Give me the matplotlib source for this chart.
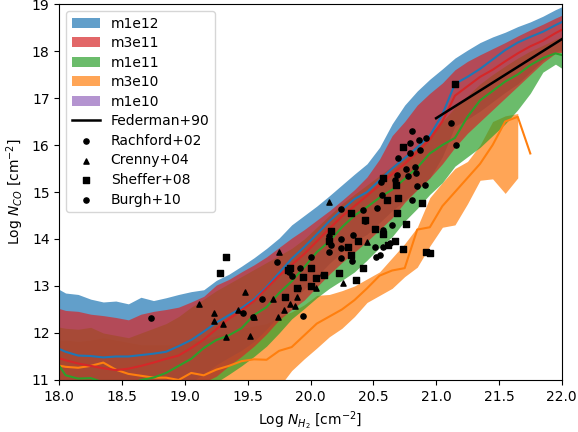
import numpy as np
import matplotlib
matplotlib.use('Agg')
import matplotlib.pyplot as plt

nan = np.nan

# bin centres in log N(H2)
xbins = [17.95, 18.05, 18.15, 18.25, 18.35, 18.45, 18.55, 18.65, 18.75, 18.85,
         18.95, 19.05, 19.15, 19.25, 19.35, 19.45, 19.55, 19.65, 19.75, 19.85,
         19.95, 20.05, 20.15, 20.25, 20.35, 20.45, 20.55, 20.65, 20.75, 20.85,
         20.95, 21.05, 21.15, 21.25, 21.35, 21.45, 21.55, 21.65, 21.75, 21.85,
         21.95, 22.05]

# m1e12
m1e12_hi = [13.0, 12.85, 12.82, 12.72, 12.66, 12.68, 12.62, 12.76, 12.69, 12.75,
            12.82, 12.88, 12.92, 13.12, 13.25, 13.42, 13.6, 13.8, 14.02, 14.3,
            14.5, 14.7, 14.92, 15.15, 15.38, 15.6, 15.95, 16.45, 16.85, 17.15,
            17.4, 17.62, 17.85, 18.02, 18.18, 18.3, 18.4, 18.52, 18.62, 18.74,
            18.88, 19.0]
m1e12_med = [11.72, 11.6, 11.52, 11.51, 11.48, 11.5, 11.5, 11.53, 11.56, 11.6,
             11.72, 11.85, 12.03, 12.22, 12.38, 12.53, 12.72, 12.98, 13.28, 13.58,
             13.83, 14.1, 14.38, 14.62, 14.85, 15.0, 15.25, 15.5, 15.72, 15.95,
             16.2, 16.65, 17.3, 17.45, 17.62, 17.82, 18.02, 18.18, 18.3, 18.41,
             18.55, 18.68]
m1e12_lo = [10.8, 10.7, 10.62, 10.6, 10.58, 10.6, 10.6, 10.63, 10.66, 10.7,
            10.82, 10.95, 11.13, 11.32, 11.48, 11.63, 11.82, 12.08, 12.38, 12.68,
            12.93, 13.2, 13.48, 13.72, 13.95, 14.1, 14.35, 14.6, 14.82, 15.05,
            15.3, 15.75, 16.4, 16.55, 16.72, 16.92, 17.12, 17.3, 17.55, 17.8,
            17.98, 18.05]

# m3e11
m3e11_hi = [12.56, 12.48, 12.46, 12.4, 12.37, 12.33, 12.28, 12.4, 12.46, 12.5,
            12.55, 12.66, 12.78, 13.02, 13.14, 13.3, 13.45, 13.62, 13.82, 14.02,
            14.2, 14.4, 14.6, 14.82, 15.05, 15.32, 15.7, 16.2, 16.5, 16.85,
            17.1, 17.32, 17.6, 17.78, 17.92, 18.05, 18.18, 18.32, 18.45, 18.57,
            18.7, 18.82]
m3e11_med = [11.5, 11.42, 11.35, 11.3, 11.25, 11.21, 11.24, 11.3, 11.37, 11.45,
             11.52, 11.68, 11.86, 12.08, 12.3, 12.48, 12.68, 12.95, 13.22, 13.45,
             13.68, 13.95, 14.22, 14.48, 14.7, 14.92, 15.15, 15.38, 15.6, 15.85,
             16.12, 16.5, 17.05, 17.25, 17.45, 17.6, 17.78, 17.95, 18.1, 18.22,
             18.38, 18.52]
m3e11_lo = [10.6, 10.55, 10.5, 10.5, 10.45, 10.45, 10.45, 10.5, 10.55, 10.6,
            10.7, 10.8, 10.95, 11.08, 11.3, 11.5, 11.72, 11.98, 12.28, 12.5,
            12.7, 12.98, 13.25, 13.5, 13.72, 13.95, 14.2, 14.45, 14.78, 15.05,
            15.3, 15.6, 15.95, 16.25, 16.5, 16.75, 17.0, 17.25, 17.5, 17.75,
            17.95, 18.0]

# m1e11
m1e11_hi = [12.15, 12.1, 12.08, 12.12, 12.0, 11.95, 11.9, 12.0, 12.1, 12.2,
            12.35, 12.55, 12.72, 12.9, 13.05, 13.2, 13.35, 13.5, 13.65, 13.8,
            14.0, 14.25, 14.5, 14.75, 14.95, 15.15, 15.35, 15.55, 15.78, 16.0,
            16.25, 16.5, 16.8, 17.05, 17.3, 17.5, 17.68, 17.85, 18.0, 18.12,
            18.25, 18.35]
m1e11_med = [11.5, 11.1, 11.03, 11.04, 10.95, 10.9, 10.9, 11.0, 11.05, 11.15,
             11.3, 11.45, 11.68, 11.85, 11.95, 12.1, 12.38, 12.55, 12.85, 13.1,
             13.4, 13.72, 13.95, 14.25, 14.5, 14.68, 14.88, 15.05, 15.28, 15.52,
             15.82, 16.0, 16.15, 16.6, 16.95, 17.15, 17.35, 17.5, 17.7, 17.85,
             17.95, 17.88]
m1e11_lo = [10.3, 10.25, 10.2, 10.2, 10.15, 10.1, 10.1, 10.1, 10.15, 10.2,
            10.3, 10.45, 10.7, 10.95, 11.12, 11.3, 11.5, 11.72, 12.0, 12.3,
            12.52, 12.75, 12.95, 13.12, 13.3, 13.55, 13.82, 14.05, 14.38, 14.65,
            14.95, 15.2, 15.55, 15.75, 15.95, 16.2, 16.45, 16.75, 17.1, 17.55,
            17.72, 17.55]

# m3e10
m3e10_hi = [11.85, 11.85, 11.82, 11.85, 11.9, 11.85, 11.8, 11.75, 11.75, 11.75,
            11.75, 11.85, 11.85, 11.95, 12.0, 12.1, 12.15, 12.2, 12.35, 12.45,
            12.6, 12.8, 12.82, 12.9, 13.0, 13.15, 13.3, 13.6, 13.9, 14.25,
            14.88, 15.2, 15.5, 15.65, 16.0, 16.5, 16.62, 16.67, nan, nan,
            nan, nan]
m3e10_med = [11.33, 11.28, 11.26, 11.3, 11.37, 11.22, 11.13, 11.09, 11.05, 11.05,
             11.0, 11.15, 11.1, 11.22, 11.3, 11.4, 11.44, 11.43, 11.62, 11.7,
             11.95, 12.2, 12.35, 12.5, 12.7, 12.95, 13.22, 13.33, 13.38, 14.2,
             14.25, 14.7, 15.0, 15.3, 15.6, 16.0, 16.5, 16.6, 15.82, nan,
             nan, nan]
m3e10_lo = [10.3, 10.3, 10.25, 10.3, 10.3, 10.25, 10.2, 10.2, 10.2, 10.2,
            10.25, 10.3, 10.4, 10.45, 10.55, 10.6, 10.7, 10.75, 10.85, 11.2,
            11.45, 11.68, 11.92, 12.1, 12.35, 12.65, 12.8, 12.95, 13.2, 13.4,
            13.85, 14.25, 14.3, 14.75, 15.25, 15.28, 14.97, 15.3, nan, nan,
            nan, nan]

# m1e10 (stays below the plotted range)
m1e10_hi = [10.6, 10.55, 10.5, 10.5, 10.5, 10.45, 10.45, 10.45, 10.5, 10.5,
            10.55, 10.6, 10.6, 10.65, 10.7, 10.7, 10.75, 10.8, 10.8, 10.85,
            10.9, 10.9, nan, nan, nan, nan, nan, nan, nan, nan,
            nan, nan, nan, nan, nan, nan, nan, nan, nan, nan,
            nan, nan]
m1e10_med = [10.1, 10.05, 10.0, 10.0, 9.95, 9.95, 9.9, 9.9, 9.95, 10.0,
             10.0, 10.05, 10.1, 10.15, 10.2, 10.2, 10.25, 10.3, 10.35, 10.4,
             10.45, 10.5, nan, nan, nan, nan, nan, nan, nan, nan,
             nan, nan, nan, nan, nan, nan, nan, nan, nan, nan,
             nan, nan]
m1e10_lo = [9.5, 9.45, 9.4, 9.4, 9.35, 9.35, 9.3, 9.3, 9.35, 9.4,
            9.4, 9.45, 9.5, 9.55, 9.6, 9.6, 9.65, 9.7, 9.75, 9.8,
            9.85, 9.9, nan, nan, nan, nan, nan, nan, nan, nan,
            nan, nan, nan, nan, nan, nan, nan, nan, nan, nan,
            nan, nan]

fed_x = [21.0, 22.0]
fed_y = [16.57, 18.25]

rach_x = [20.56, 20.57, 20.67, 20.69, 20.70, 20.76, 20.78, 20.79, 20.79, 20.81,
          20.83, 20.84, 20.85, 20.86, 20.87, 20.91, 20.92, 21.12, 21.16, 20.81]
rach_y = [15.22, 14.94, 15.26, 15.36, 15.72, 15.50, 15.33, 15.82, 16.04, 16.30,
          15.54, 15.40, 15.13, 16.11, 15.89, 15.15, 16.14, 16.47, 16.00, 14.83]

cren_x = [19.11, 19.23, 19.23, 19.30, 19.33, 19.42, 19.48, 19.52, 19.55, 19.70,
          19.74, 19.75, 19.79, 19.84, 19.88, 19.89, 20.04, 20.15, 20.26, 20.45]
cren_y = [12.61, 12.42, 12.26, 12.19, 11.91, 12.49, 12.87, 11.94, 12.35, 12.73,
          12.33, 13.73, 12.49, 12.61, 12.57, 12.77, 12.95, 14.79, 13.06, 13.93]

shef_x = [19.28, 19.33, 19.80, 19.82, 19.84, 19.89, 19.94, 20.00, 20.00, 20.04,
          20.11, 20.16, 20.23, 20.30, 20.32, 20.32, 20.36, 20.38, 20.42, 20.43,
          20.51, 20.58, 20.58, 20.61, 20.62, 20.67, 20.68, 20.69, 20.70, 20.74,
          20.74, 20.76, 20.89, 20.92, 20.95, 21.15, 20.15]
shef_y = [13.28, 13.62, 12.77, 13.34, 13.38, 12.96, 13.20, 12.99, 13.38, 13.18,
          13.23, 14.16, 13.27, 13.84, 13.66, 14.55, 13.13, 13.96, 13.38, 14.40,
          14.21, 14.10, 15.29, 14.84, 13.87, 13.96, 15.15, 14.55, 14.87, 13.79,
          15.96, 14.31, 14.77, 13.72, 13.70, 17.29, 13.95]

burgh_x = [18.73, 19.46, 19.54, 19.61, 19.73, 19.83, 19.85, 19.90, 19.94, 19.92,
           20.00, 20.10, 20.15, 20.16, 20.15, 20.24, 20.24, 20.24, 20.24, 20.33,
           20.34, 20.42, 20.43, 20.51, 20.52, 20.53, 20.55, 20.58, 20.58, 20.63,
           20.65]
burgh_y = [12.31, 12.42, 12.35, 12.72, 13.52, 13.30, 13.22, 12.95, 12.37, 13.38,
           13.62, 13.23, 13.73, 13.87, 14.06, 13.59, 13.80, 14.01, 14.63, 13.54,
           14.09, 14.62, 14.38, 13.84, 13.62, 14.65, 13.66, 13.84, 14.19, 13.91,
           14.30]

models = {
    'm1e12': ('tab:blue', m1e12_lo, m1e12_med, m1e12_hi),
    'm3e11': ('tab:red', m3e11_lo, m3e11_med, m3e11_hi),
    'm1e11': ('tab:green', m1e11_lo, m1e11_med, m1e11_hi),
    'm3e10': ('tab:orange', m3e10_lo, m3e10_med, m3e10_hi),
    'm1e10': ('tab:purple', m1e10_lo, m1e10_med, m1e10_hi),
}
draw_order = ['m1e10', 'm3e10', 'm1e12', 'm1e11', 'm3e11']

fig = plt.figure(figsize=(5.78, 4.32), dpi=100)
ax = fig.add_axes([0.1026, 0.1204, 0.8692, 0.8703])

handles = {}
for name in draw_order:
    col, lo, med, hi = models[name]
    handles[name] = ax.fill_between(xbins, lo, hi, color=col, alpha=0.7, lw=0)
for name in draw_order:
    col, lo, med, hi = models[name]
    ax.plot(xbins, med, color=col, lw=1.5)

handles['Federman+90'], = ax.plot(fed_x, fed_y, color='k', lw=1.8)
handles['Rachford+02'] = ax.scatter(rach_x, rach_y, c='k', marker='o', s=14, zorder=5)
handles['Crenny+04'] = ax.scatter(cren_x, cren_y, c='k', marker='^', s=14, zorder=5)
handles['Sheffer+08'] = ax.scatter(shef_x, shef_y, c='k', marker='s', s=14, zorder=5)
handles['Burgh+10'] = ax.scatter(burgh_x, burgh_y, c='k', marker='o', s=14, zorder=5)

order = ['m1e12', 'm3e11', 'm1e11', 'm3e10', 'm1e10',
         'Federman+90', 'Rachford+02', 'Crenny+04', 'Sheffer+08', 'Burgh+10']
ax.legend([handles[k] for k in order], order, loc='upper left', labelspacing=0.4)

ax.set_xlim(18, 22)
ax.set_ylim(11, 19)
ax.set_xlabel(r'Log $N_{H_2}$ [cm$^{-2}$]')
ax.set_ylabel(r'Log $N_{CO}$ [cm$^{-2}$]')

plt.savefig('out.png', dpi=100)
